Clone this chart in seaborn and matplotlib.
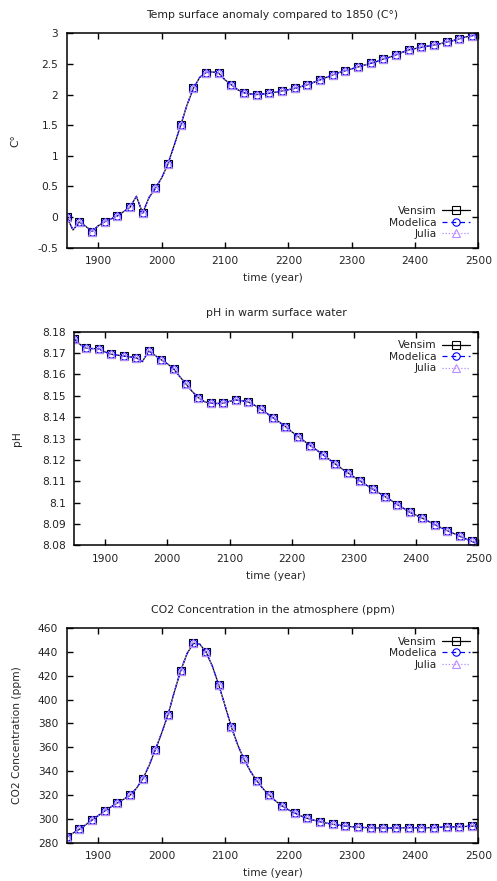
import matplotlib
matplotlib.use("Agg")
import matplotlib.pyplot as plt
import seaborn as sns
from matplotlib.ticker import FuncFormatter

# data (10-year steps, markers every 20 years)
years = list(range(1850, 2501, 10))

temp = [0.00, -0.21, -0.08, -0.15, -0.235, -0.14, -0.075, -0.03, 0.02, 0.09,
        0.16, 0.34, 0.065, 0.32, 0.47, 0.64, 0.87, 1.18, 1.50, 1.83,
        2.10, 2.28, 2.36, 2.37, 2.35, 2.24, 2.16, 2.08, 2.03, 2.01,
        2.00, 2.01, 2.02, 2.04, 2.06, 2.08, 2.10, 2.13, 2.16, 2.20,
        2.24, 2.28, 2.32, 2.36, 2.39, 2.42, 2.45, 2.48, 2.51, 2.54,
        2.58, 2.61, 2.65, 2.69, 2.73, 2.75, 2.77, 2.79, 2.81, 2.83,
        2.86, 2.88, 2.91, 2.94, 2.96, 2.99]

ph = [8.1766, 8.1740, 8.1722, 8.1721, 8.1720, 8.1705, 8.1694, 8.1690, 8.1686, 8.1682,
      8.1678, 8.1660, 8.1710, 8.1690, 8.1669, 8.1650, 8.1627, 8.1590, 8.1555, 8.1520,
      8.1491, 8.1472, 8.1465, 8.1464, 8.1465, 8.1474, 8.1480, 8.1477, 8.1471, 8.1456,
      8.1438, 8.1418, 8.1397, 8.1377, 8.1356, 8.1332, 8.1309, 8.1288, 8.1267, 8.1246,
      8.1225, 8.1203, 8.1181, 8.1160, 8.1140, 8.1120, 8.1101, 8.1082, 8.1064, 8.1046,
      8.1028, 8.1010, 8.0991, 8.0973, 8.0955, 8.0941, 8.0927, 8.0912, 8.0897, 8.0883,
      8.0869, 8.0856, 8.0843, 8.0830, 8.0818, 8.0806]

co2 = [284.8, 288.0, 291.2, 295.0, 299.0, 302.8, 306.6, 310.0, 313.3, 316.4,
       319.7, 325.5, 333.4, 344.5, 358.0, 372.0, 387.3, 406.5, 424.2, 438.5,
       447.1, 446.5, 439.9, 428.0, 412.4, 395.0, 377.0, 362.0, 349.9, 340.0,
       332.0, 325.3, 319.7, 314.9, 310.8, 307.6, 304.9, 302.4, 300.4, 298.9,
       297.6, 296.4, 295.4, 294.6, 294.0, 293.4, 292.9, 292.7, 292.6, 292.4,
       292.3, 292.3, 292.3, 292.4, 292.6, 292.6, 292.6, 292.6, 292.6, 292.9,
       293.2, 293.3, 293.4, 293.6, 293.8, 294.0]

models = ["Vensim", "Modelica", "Julia"]
colors = {"Vensim": "black", "Modelica": "#0000ff", "Julia": "#b98cff"}
lstyles = {"Vensim": "-", "Modelica": (0, (4, 3)), "Julia": (0, (1, 1.5))}
markers = {"Vensim": "s", "Modelica": "o", "Julia": "^"}

sns.set_theme(style="ticks")
plt.rcParams["font.family"] = ["DejaVu Sans"]
plt.rcParams["font.size"] = 7.7
plt.rcParams["axes.linewidth"] = 1.1
plt.rcParams["axes.edgecolor"] = "black"
plt.rcParams["text.color"] = "#222222"

fig = plt.figure(figsize=(4.97, 8.81), dpi=100)

panels = [
    dict(y=temp, title="Temp surface anomaly compared to 1850 (C°)", ylabel="C°",
         ylim=(-0.5, 3), step=0.5, pos=[0.1342, 0.7188, 0.8282, 0.2434],
         loc="lower right", ylx=-0.113),
    dict(y=ph, title="pH in warm surface water", ylabel="pH",
         ylim=(8.08, 8.18), step=0.01, pos=[0.1489, 0.3810, 0.8135, 0.2425],
         loc="upper right", ylx=-0.129),
    dict(y=co2, title="CO2 Concentration in the atmosphere (ppm)", ylabel="CO2 Concentration (ppm)",
         ylim=(280, 460), step=20, pos=[0.1342, 0.0435, 0.8282, 0.2437],
         loc="upper right", ylx=-0.109),
]

for p in panels:
    ax = fig.add_axes(p["pos"])
    for m in models:
        sns.lineplot(x=years, y=p["y"], ax=ax, color=colors[m], linestyle=lstyles[m],
                     linewidth=0.9, marker=markers[m], markevery=2, markersize=5.3,
                     markerfacecolor="none", markeredgecolor=colors[m],
                     markeredgewidth=0.8, label=m)
    ax.set_xlim(1850, 2500)
    ax.set_ylim(*p["ylim"])
    ax.set_xticks(range(1900, 2501, 100))
    lo, hi = p["ylim"]
    n = int(round((hi - lo) / p["step"]))
    ax.set_yticks([lo + i * p["step"] for i in range(n + 1)])
    ax.yaxis.set_major_formatter(FuncFormatter(lambda v, _: "{:g}".format(round(v, 4))))
    ax.tick_params(direction="in", top=True, right=True, length=4, width=1.0,
                   pad=6, labelsize=7.7, colors="black", labelcolor="#222222")
    ax.set_title(p["title"], fontsize=7.8, pad=11)
    ax.set_xlabel("time (year)", fontsize=7.7, labelpad=5)
    ax.set_ylabel(p["ylabel"], fontsize=7.7)
    ax.yaxis.set_label_coords(p["ylx"], 0.5)
    ax.legend(loc=p["loc"], frameon=False, markerfirst=False, handlelength=2.6,
              handletextpad=0.5, labelspacing=0.15, borderaxespad=0.4, fontsize=7.7)

fig.savefig("out.png", dpi=100)
